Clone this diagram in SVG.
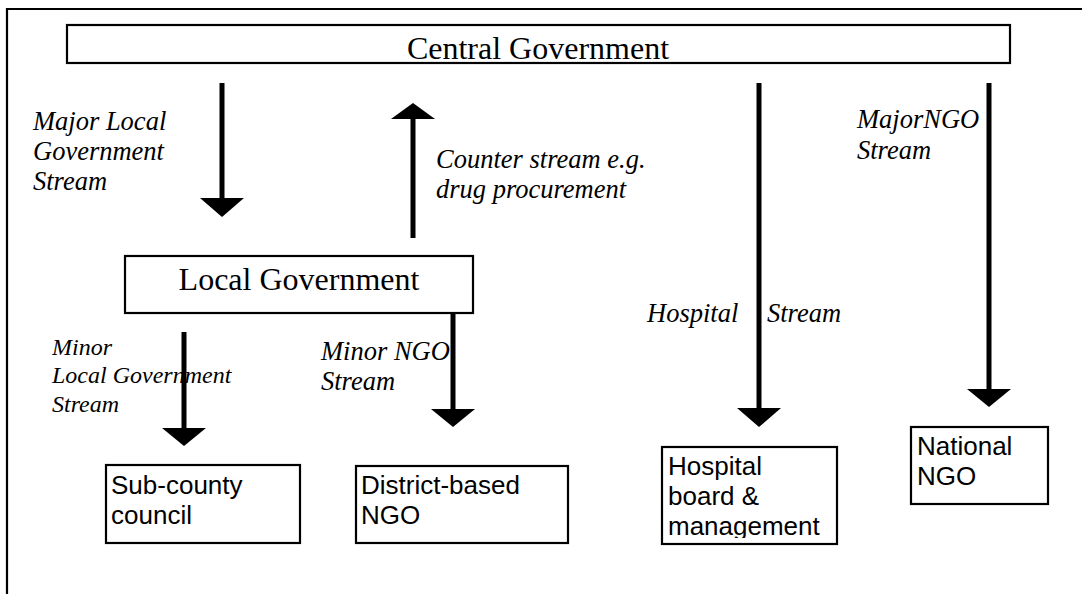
<svg xmlns="http://www.w3.org/2000/svg" width="1082" height="594" viewBox="0 0 1082 594">
<style>
.box{fill:#fff;stroke:#000;stroke-width:2.2}
.frame{fill:none;stroke:#000;stroke-width:2.2}
.shaft{stroke:#000;stroke-width:5;fill:none}
.head{fill:#000;stroke:none}
.big{font-family:"Liberation Serif","Times New Roman",serif;font-size:32px;fill:#000}
.lab{font-family:"Liberation Serif","Times New Roman",serif;font-style:italic;font-size:26.5px;fill:#000}
.labs{font-family:"Liberation Serif","Times New Roman",serif;font-style:italic;font-size:24px;fill:#000}
.sans{font-family:"Liberation Sans",Arial,sans-serif;font-size:26px;fill:#000}
</style>
<defs>
<clipPath id="hospClip"><rect x="663" y="448" width="173" height="90"/></clipPath>
</defs>
<rect width="1082" height="594" fill="#fff"/>
<g id="frame">
<path class="frame" d="M7 594 V9 H1082"/>
</g>
<g id="central-government">
<rect class="box" x="67" y="25" width="943" height="38"/>
<text class="big" x="538" y="59" text-anchor="middle">Central Government</text>
</g>
<g id="local-government">
<rect class="box" x="125" y="256" width="348" height="57"/>
<text class="big" x="299" y="290" text-anchor="middle">Local Government</text>
</g>
<g id="sub-county-council">
<rect class="box" x="106" y="465" width="194" height="78"/>
<text class="sans" x="111" y="494">Sub-county</text>
<text class="sans" x="111" y="524">council</text>
</g>
<g id="district-based-ngo">
<rect class="box" x="356" y="466" width="212" height="77"/>
<text class="sans" x="361" y="494">District-based</text>
<text class="sans" x="361" y="524">NGO</text>
</g>
<g id="hospital-board">
<rect class="box" x="662" y="447" width="175" height="97"/>
<g clip-path="url(#hospClip)">
<text class="sans" x="668" y="475">Hospital</text>
<text class="sans" x="668" y="505">board &amp;</text>
<text class="sans" x="668" y="535">management</text>
</g>
</g>
<g id="national-ngo">
<rect class="box" x="911" y="427" width="137" height="77"/>
<text class="sans" x="917" y="455">National</text>
<text class="sans" x="917" y="485">NGO</text>
</g>
<g id="connectors">
<line class="shaft" x1="222" y1="83" x2="222" y2="200"/>
<polygon class="head" points="200,198 244,198 222,217"/>
<line class="shaft" x1="413" y1="238" x2="413" y2="118"/>
<polygon class="head" points="391,119 435,119 413,103"/>
<line class="shaft" x1="759" y1="83" x2="759" y2="409"/>
<polygon class="head" points="737,408 781,408 759,427"/>
<line class="shaft" x1="989" y1="83" x2="989" y2="390"/>
<polygon class="head" points="967,389 1011,389 989,407"/>
<line class="shaft" x1="184" y1="332" x2="184" y2="429"/>
<polygon class="head" points="162,428 206,428 184,446"/>
<line class="shaft" x1="453" y1="313" x2="453" y2="410"/>
<polygon class="head" points="431,409 475,409 453,427"/>
</g>
<g id="labels">
<text class="lab" x="33" y="130">Major Local</text>
<text class="lab" x="33" y="160">Government</text>
<text class="lab" x="33" y="190">Stream</text>
<text class="lab" x="436" y="168">Counter stream e.g.</text>
<text class="lab" x="436" y="198">drug procurement</text>
<text class="lab" x="857" y="128">MajorNGO</text>
<text class="lab" x="857" y="159">Stream</text>
<text class="lab" x="647" y="322">Hospital</text>
<text class="lab" x="767" y="322">Stream</text>
<text class="labs" x="52" y="355">Minor</text>
<text class="labs" x="52" y="383">Local Government</text>
<text class="labs" x="52" y="412">Stream</text>
<text class="lab" x="321" y="360">Minor NGO</text>
<text class="lab" x="321" y="390">Stream</text>
</g>
</svg>
